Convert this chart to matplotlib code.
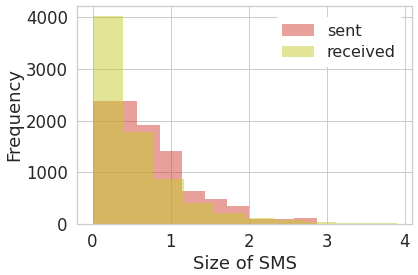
import numpy as np
import matplotlib
matplotlib.use("Agg")
import matplotlib.pyplot as plt
import seaborn as sns

sns.set_style("whitegrid")
sns.set_context("notebook", font_scale=1.5)

# histogram counts (10 bins each)
sent_range = (0.0, 2.87)
sent_counts = [2390, 2385, 1920, 1415, 640, 485, 350, 97, 91, 120]

received_range = (0.0, 3.9)
received_counts = [4020, 1786, 874, 410, 220, 120, 80, 45, 25, 25]

sent_edges = np.linspace(sent_range[0], sent_range[1], len(sent_counts) + 1)
received_edges = np.linspace(received_range[0], received_range[1], len(received_counts) + 1)

fig = plt.figure(figsize=(418 / 72, 275 / 72), dpi=72)
ax = fig.add_axes([0.185, 0.1855, 0.801, 0.7927])

ax.hist(sent_edges[:-1], bins=sent_edges, weights=sent_counts,
        color="#d14237", alpha=0.5, edgecolor="none", linewidth=0, label="sent")
ax.hist(received_edges[:-1], bins=received_edges, weights=received_counts,
        color="#c7cd2d", alpha=0.5, edgecolor="none", linewidth=0, label="received")

ax.set_xlabel("Size of SMS")
ax.set_ylabel("Frequency", labelpad=3)
ax.set_xticks([0, 1, 2, 3, 4])
ax.set_yticks([0, 1000, 2000, 3000, 4000])

leg = ax.legend(loc="upper right", bbox_to_anchor=(0.994, 0.985),
                frameon=True, facecolor="white", edgecolor="white",
                framealpha=1, fontsize=16, labelspacing=0.4,
                handletextpad=0.8)

fig.savefig("out.png", dpi=72)
